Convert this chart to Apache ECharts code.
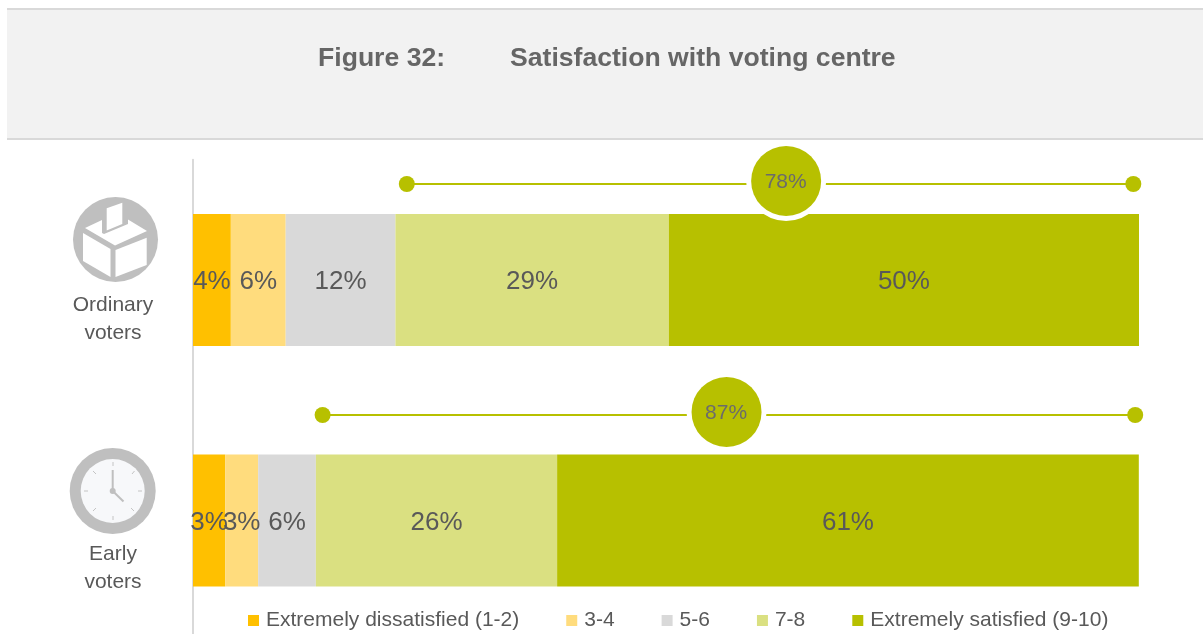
<!DOCTYPE html>
<html><head><meta charset="utf-8">
<style>html,body{margin:0;padding:0;background:#fff}#c{width:1203px;height:634px}</style>
<script src="https://cdn.jsdelivr.net/npm/echarts@6/dist/echarts.min.js"></script>
</head><body><div id="c"></div>
<script>
const categories = ['Ordinary\nvoters', 'Early\nvoters'];
const seriesNames = ['Extremely dissatisfied (1-2)', '3-4', '5-6', '7-8', 'Extremely satisfied (9-10)'];
const extremelyDissatisfied = [4.0, 3.4];
const score34 = [5.8, 3.49];
const score56 = [11.6, 6.1];
const score78 = [28.9, 25.5];
const extremelySatisfied = [49.7, 61.49];
const netStart = [22.6, 13.7];
const netEnd = [99.4, 99.6];
const netCentre = [62.7, 56.4];
const netLabels = ['78%', '87%'];
const colours = ['#FFC000', '#FFDC7D', '#D9D9D9', '#DAE081', '#B7C000'];
const allValues = [extremelyDissatisfied, score34, score56, score78, extremelySatisfied];
const bracketOffset = [-96, -105.5];
const FONT = '"Liberation Sans", Arial, sans-serif';
const TEXT = '#595959';

const chart = echarts.init(document.getElementById('c'), null, {renderer: 'canvas'});

const barSeries = seriesNames.map((name, i) => ({
  name, type: 'bar', stack: 'total', barWidth: 132, z: 2,
  itemStyle: {color: colours[i]},
  label: {show: true, position: 'inside', offset: [0, 2], color: TEXT, fontFamily: FONT, fontSize: 26,
    formatter: p => Math.round(p.value) + '%'},
  data: allValues[i]
}));

const brackets = {
  type: 'custom', silent: true, z: 5, coordinateSystem: 'cartesian2d', legendHoverLink: false,
  encode: {x: [0, 1, 2], y: 3},
  data: categories.map((c, i) => [netStart[i], netEnd[i], netCentre[i], c, netLabels[i], i]),
  renderItem(params, api) {
    const i = api.value(5);
    const a = api.coord([api.value(0), i]);
    const b = api.coord([api.value(1), i]);
    const m = api.coord([api.value(2), i]);
    const y = a[1] + bracketOffset[i];
    const G = '#B7C000';
    return {type: 'group', children: [
      {type: 'line', shape: {x1: a[0], y1: y, x2: b[0], y2: y}, style: {stroke: G, lineWidth: 2}},
      {type: 'circle', shape: {cx: a[0], cy: y, r: 8}, style: {fill: G}},
      {type: 'circle', shape: {cx: b[0], cy: y, r: 8}, style: {fill: G}},
      {type: 'circle', shape: {cx: m[0], cy: y - 3, r: 40}, style: {fill: '#fff'}},
      {type: 'circle', shape: {cx: m[0], cy: y - 3, r: 35}, style: {fill: G}},
      {type: 'text', x: m[0] - 0.5, y: y - 2, style: {text: netLabels[i], fill: '#6b6b6b', font: '21px ' + FONT, align: 'center', verticalAlign: 'middle'}}
    ]};
  }
};

const tick = (x1,y1,x2,y2,w,c) => ({type:'line',shape:{x1,y1,x2,y2},style:{stroke:c||'#C4C4C4',lineWidth:w||1}});

chart.setOption({
  animation: false,
  backgroundColor: '#fff',
  grid: {left: 193, top: 159.75, width: 946, height: 481, containLabel: false, outerBoundsMode: 'none'},
  xAxis: {type: 'value', min: 0, max: 100, show: false},
  yAxis: {type: 'category', inverse: true, data: categories, axisTick: {show: false}, axisLabel: {show: false},
    axisLine: {show: true, lineStyle: {color: '#D9D9D9', width: 2}}},
  legend: {left: 243, top: 605, icon: 'rect', itemWidth: 11, itemHeight: 11, itemGap: 47,
    data: seriesNames, selectedMode: false,
    textStyle: {color: TEXT, fontFamily: FONT, fontSize: 21, padding: [0,0,0,2]}},
  series: [...barSeries, brackets],
  graphic: [
    {type:'rect', shape:{x:7,y:8,width:1196,height:132}, style:{fill:'#F2F2F2'}, z:0},
    {type:'rect', shape:{x:7,y:8,width:1196,height:2}, style:{fill:'#D9D9D9'}, z:0},
    {type:'rect', shape:{x:7,y:138,width:1196,height:2}, style:{fill:'#D9D9D9'}, z:0},
    {type:'text', x:318, y:58.5, style:{text:'Figure 32:', fill:'#666', font:'bold 26.6px '+FONT, verticalAlign:'middle'}},
    {type:'text', x:510, y:58.5, style:{text:'Satisfaction with voting centre', fill:'#666', font:'bold 26.6px '+FONT, verticalAlign:'middle'}},
    {type:'text', x:113, y:319, style:{text:categories[0], fill:TEXT, font:'21px '+FONT, align:'center', verticalAlign:'middle', lineHeight:28}},
    {type:'text', x:113, y:568, style:{text:categories[1], fill:TEXT, font:'21px '+FONT, align:'center', verticalAlign:'middle', lineHeight:28}},
    // ballot box icon
    {type:'circle', shape:{cx:115.5,cy:239.5,r:42.5}, style:{fill:'#BFBFBF'}},
    {type:'polygon', shape:{points:[[83,233],[110.5,249],[110.5,277],[83,261]]}, style:{fill:'#fff'}},
    {type:'polygon', shape:{points:[[115.5,250],[146.7,237.7],[146.7,265],[115.5,277]]}, style:{fill:'#fff'}},
    {type:'polygon', shape:{points:[[85,228],[102,220],[102,233],[104,234],[128,224],[128,219.5],[147,231],[115,245.5]]}, style:{fill:'#fff'}},
    {type:'polygon', shape:{points:[[106.7,208.3],[122.3,202.7],[122.3,224],[106.7,230.5]]}, style:{fill:'#fff'}},
    // clock icon
    {type:'circle', shape:{cx:112.7,cy:491,r:43}, style:{fill:'#BFBFBF'}},
    {type:'circle', shape:{cx:112.7,cy:491,r:32}, style:{fill:'#F7F8FA'}},
    tick(113,462,113,466), tick(113,516,113,520), tick(84,491,88,491), tick(138,491,142,491),
    tick(93,471,96,474), tick(132,474,134.5,471), tick(93,511,96,508), tick(131,508,134,511),
    tick(112.7,491,112.7,470,2,'#BFBFBF'), tick(112.7,491,123.5,501.5,2,'#BFBFBF'),
    {type:'circle', shape:{cx:112.7,cy:491,r:3}, style:{fill:'#BFBFBF'}}
  ]
});
</script></body></html>
